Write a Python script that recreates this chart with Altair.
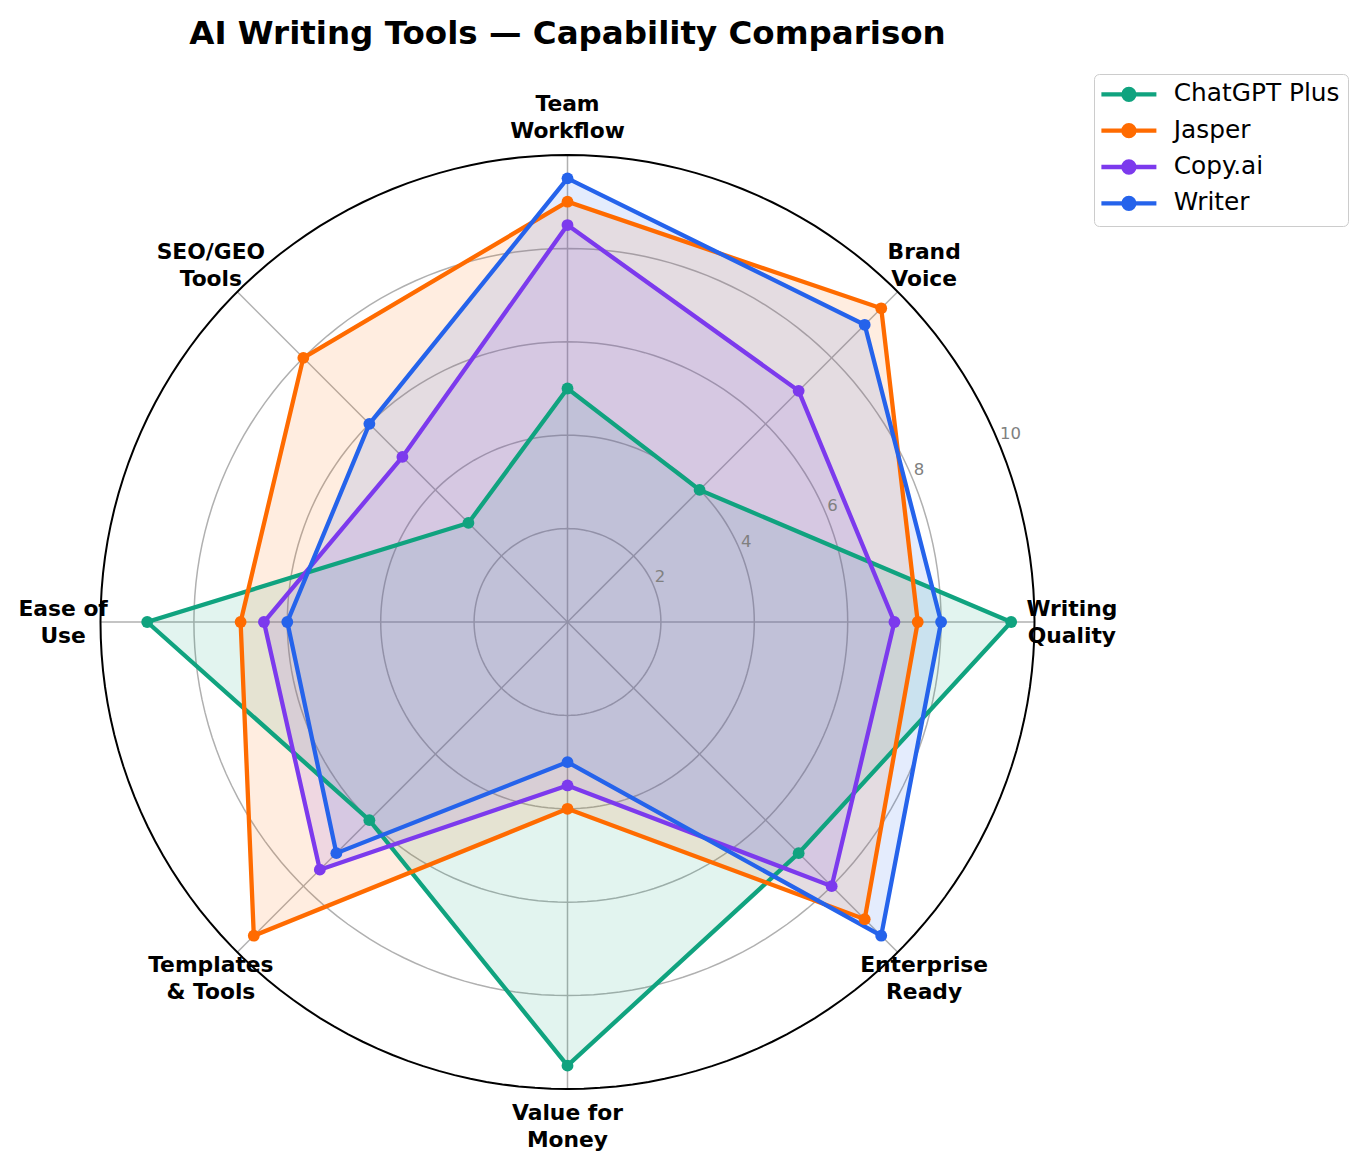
import altair as alt
import pandas as pd

# ---------------- data ----------------
categories = ["Writing Quality", "Brand Voice", "Team Workflow", "SEO/GEO Tools",
              "Ease of Use", "Templates & Tools", "Value for Money", "Enterprise Ready"]
category_labels = ["Writing\nQuality", "Brand\nVoice", "Team\nWorkflow", "SEO/GEO\nTools",
                   "Ease of\nUse", "Templates\n& Tools", "Value for\nMoney", "Enterprise\nReady"]
series_names = ["ChatGPT Plus", "Jasper", "Copy.ai", "Writer"]
chatgpt_plus = [9.5, 4.0, 5.0, 3.0, 9.0, 6.0, 9.5, 7.0]
jasper = [7.5, 9.5, 9.0, 8.0, 7.0, 9.5, 4.0, 9.0]
copy_ai = [7.0, 7.0, 8.5, 5.0, 6.5, 7.5, 3.5, 8.0]
writer = [8.0, 9.0, 9.5, 6.0, 6.0, 7.0, 3.0, 9.5]
series_colors = ["#10a37f", "#ff6b00", "#7c3aed", "#2563eb"]
grid_levels = [2, 4, 6, 8]
outer_level = [10]
tick_values = [2, 4, 6, 8, 10]
tick_text = ["2", "4", "6", "8", "10"]

title_text = "AI Writing Tools \u2014 Capability Comparison"

# ---------------- tables ----------------
n = len(categories)
rows = []
for name, vals in zip(series_names, [chatgpt_plus, jasper, copy_ai, writer]):
    for k in range(n + 1):
        rows.append({"series": name, "order": k, "idx": k % n, "value": vals[k % n]})
series_df = pd.DataFrame(rows)

circle_rows = []
for lvl in grid_levels + outer_level:
    for deg in range(0, 361, 2):
        circle_rows.append({"level": lvl, "deg": deg})
circle_df = pd.DataFrame(circle_rows)

spoke_df = pd.DataFrame({"idx": list(range(n)), "level": [10] * n})
label_df = pd.DataFrame({"idx": list(range(n)), "label": category_labels})
tick_df = pd.DataFrame({"level": tick_values, "text": tick_text})

# ---------------- layout ----------------
W, H_TOTAL, PAD_TOP = 1369, 1168, 70
H = H_TOTAL - PAD_TOP
PX = 46.7
CX, CY = 567.5, 622 - PAD_TOP
x_scale = alt.Scale(domain=[-CX / PX, (W - CX) / PX], nice=False, zero=False)
y_scale = alt.Scale(domain=[-(H - CY) / PX, CY / PX], nice=False, zero=False)


def X(f):
    return alt.X(f, type="quantitative", scale=x_scale, axis=None)


def Y(f):
    return alt.Y(f, type="quantitative", scale=y_scale, axis=None)


FONT = "DejaVu Sans"

circle_base = alt.Chart(circle_df).transform_calculate(
    x="datum.level * cos(datum.deg * PI / 180)",
    y="datum.level * sin(datum.deg * PI / 180)",
)
grid = circle_base.transform_filter("datum.level < 10").mark_line(
    color="#b0b0b0", strokeWidth=1.5
).encode(x=X("x"), y=Y("y"), order="deg:Q", detail="level:N")
outer = circle_base.transform_filter("datum.level >= 10").mark_line(
    color="black", strokeWidth=2
).encode(x=X("x"), y=Y("y"), order="deg:Q", detail="level:N")

spokes = alt.Chart(spoke_df).transform_calculate(
    x0="0", y0="0",
    xe="datum.level * cos(datum.idx * PI / 4)",
    ye="datum.level * sin(datum.idx * PI / 4)",
).mark_rule(color="#b0b0b0", strokeWidth=1.5).encode(
    x=X("x0"), y=Y("y0"), x2="xe:Q", y2="ye:Q"
)

pos = alt.Chart(series_df).transform_calculate(
    x="datum.value * cos(datum.idx * PI / 4)",
    y="datum.value * sin(datum.idx * PI / 4)",
)

color_scale = alt.Scale(domain=series_names, range=series_colors)
legend_path = "M-1.857,0L6,0M1.285,0A0.786,0.786,0,1,1,2.857,0A0.786,0.786,0,1,1,1.285,0Z"
legend = alt.Legend(
    title=None, orient="none", legendX=1094, legendY=4,
    symbolType=legend_path, symbolSize=196, symbolStrokeWidth=4.3, symbolOpacity=1,
    labelFont=FONT, labelFontSize=24.8, labelColor="black", labelOffset=47,
    labelLimit=400, rowPadding=7.3, padding=8, strokeColor="#cccccc", fillColor="white",
    cornerRadius=5, direction="vertical",
)

fills = pos.mark_line(strokeWidth=0, fillOpacity=0.12).encode(
    x=X("x"), y=Y("y"), order="order:Q",
    fill=alt.Fill("series:N", scale=color_scale, legend=legend),
)
lines = pos.mark_line(strokeWidth=4.3).encode(
    x=X("x"), y=Y("y"), order="order:Q",
    color=alt.Color("series:N", scale=color_scale, legend=legend),
)
points = pos.transform_filter("datum.order < 8").mark_circle(size=140, opacity=1).encode(
    x=X("x"), y=Y("y"),
    color=alt.Color("series:N", scale=color_scale, legend=legend),
)

cat_labels = alt.Chart(label_df).transform_calculate(
    x="10.8 * cos(datum.idx * PI / 4)",
    y="10.8 * sin(datum.idx * PI / 4)",
).mark_text(
    font=FONT, fontSize=21.8, fontWeight="bold", color="black",
    align="center", baseline="middle", lineBreak="\n", lineHeight=27, dy=-13.5,
).encode(x=X("x"), y=Y("y"), text="label:N")

ticks = alt.Chart(tick_df).transform_calculate(
    x="datum.level * cos(PI / 8)",
    y="datum.level * sin(PI / 8)",
).mark_text(
    font=FONT, fontSize=16.5, color="#808080", align="left", baseline="alphabetic",
    dx=1, dy=-4,
).encode(x=X("x"), y=Y("y"), text="text:N")

chart = alt.layer(grid, spokes, fills, lines, points, outer, ticks, cat_labels).properties(
    width=W, height=H,
    padding={"left": 0, "right": 0, "top": PAD_TOP, "bottom": 0},
    autosize=alt.AutoSizeParams(type="none"),
    background="white",
    title=alt.TitleParams(
        text=title_text, font=FONT, fontSize=32.5, fontWeight="bold", color="black",
        anchor="middle", frame="group", dx=CX - W / 2, offset=-6, baseline="alphabetic",
    ),
).configure_view(strokeWidth=0)

chart.save("out.html", embed_options={"renderer": "svg", "actions": False})
